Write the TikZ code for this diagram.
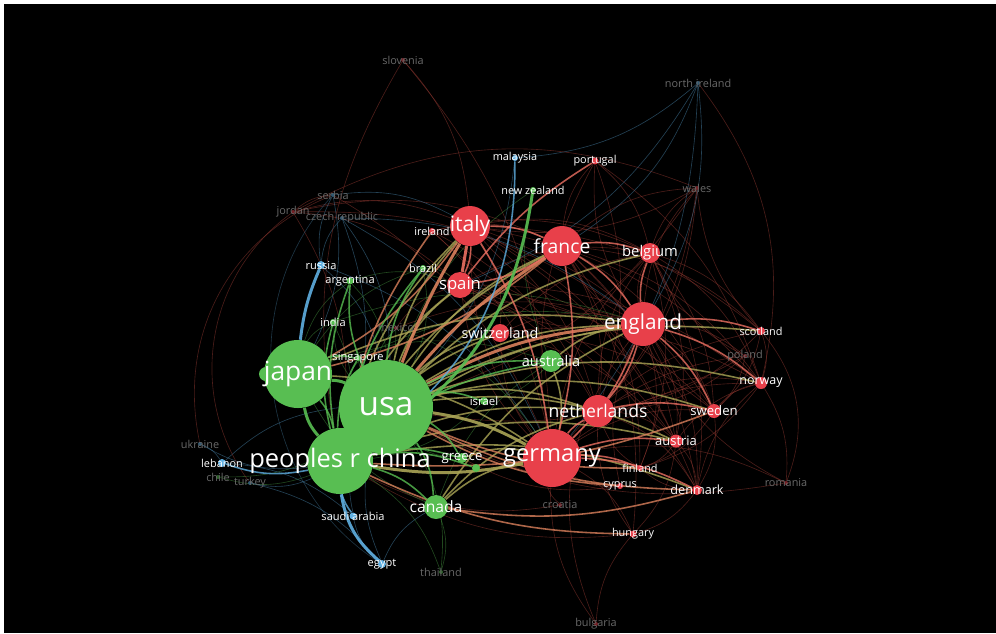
\documentclass[tikz,border=0pt]{standalone}
\usepackage{fontspec}
\setmainfont{Open Sans}
\usepackage{xcolor}
\definecolor{vgreen}{RGB}{88,190,82}
\definecolor{vred}{RGB}{232,64,74}
\definecolor{vblue}{RGB}{96,176,226}
\definecolor{vmix}{RGB}{170,165,86}
\definecolor{vorange}{RGB}{218,128,92}
\definecolor{vsalmon}{RGB}{236,112,98}
\definecolor{vweb}{RGB}{150,58,50}
\definecolor{vdim}{RGB}{105,105,105}
\pgfdeclarelayer{back}
\pgfdeclarelayer{links}
\pgfsetlayers{back,links,main}

\begin{document}
\begin{tikzpicture}[x=0.02cm,y=-0.02cm]
  \tikzset{
    gnode/.style={circle,fill=vgreen,inner sep=0pt,minimum size=#1*0.02cm},
    rnode/.style={circle,fill=vred,inner sep=0pt,minimum size=#1*0.02cm},
    bnode/.style={circle,fill=vblue,inner sep=0pt,minimum size=#1*0.02cm},
    lab/.style={text=white,inner sep=0pt,font=\fontsize{#1}{#1}\selectfont},
    dimlab/.style={text=vdim,inner sep=0pt,font=\fontsize{6.2}{6.2}\selectfont},
    strong/.style={line width=1.7pt,opacity=.9},
    mid/.style={line width=.9pt,opacity=.8},
    faint/.style={line width=.35pt,opacity=.5}
  }
  \useasboundingbox (0,0) rectangle (996,633);
  \begin{pgfonlayer}{back}
    \fill[white] (0,0) rectangle (996,633);
    \fill[black] (4,4) rectangle (996,633);
  \end{pgfonlayer}

  % green cluster
  \node[gnode=94] (usa) at (386,407) {};
  \node[gnode=66] (china) at (340,461) {};
  \node[gnode=14] (jbump) at (266,374) {};
  \node[gnode=68] (japan) at (298,374) {};
  \node[gnode=22] (australia) at (551,361) {};
  \node[gnode=24] (canada) at (436,507) {};
  \node[gnode=8] (israel) at (484,401) {};
  \node[gnode=10] (greece) at (462,458) {};
  \node[gnode=8] (gdot) at (476,468) {};
  \node[gnode=7] (argentina) at (350,281) {};
  \node[gnode=6] (india) at (333,322) {};
  \node[gnode=6] (singapore) at (358,358) {};
  \node[gnode=6] (brazil) at (423,268) {};
  \node[gnode=6] (newzealand) at (533,190) {};
  \node[gnode=4,fill=vgreen!50!black] (thailand) at (441,572) {};
  \node[gnode=4,fill=vgreen!50!black] (chile) at (218,477) {};

  % red cluster
  \node[rnode=58] (germany) at (552,458) {};
  \node[rnode=44] (england) at (643,324) {};
  \node[rnode=40] (italy) at (470,226) {};
  \node[rnode=40] (france) at (562,246) {};
  \node[rnode=26] (spain) at (460,285) {};
  \node[rnode=32] (netherlands) at (598,411) {};
  \node[rnode=20] (belgium) at (650,253) {};
  \node[rnode=18] (switzerland) at (500,333) {};
  \node[rnode=14] (sweden) at (714,411) {};
  \node[rnode=13] (austria) at (676,441) {};
  \node[rnode=12] (norway) at (761,383) {};
  \node[rnode=8] (scotland) at (761,331) {};
  \node[rnode=10] (denmark) at (697,490) {};
  \node[rnode=6] (finland) at (640,468) {};
  \node[rnode=6] (cyprus) at (620,486) {};
  \node[rnode=7] (hungary) at (633,534) {};
  \node[rnode=6] (ireland) at (432,231) {};
  \node[rnode=7] (portugal) at (595,161) {};
  \node[rnode=4,fill=vred!50!black] (mexico) at (396,328) {};
  \node[rnode=4,fill=vred!50!black] (jordan) at (293,212) {};
  \node[rnode=4,fill=vred!50!black] (slovenia) at (403,60) {};
  \node[rnode=4,fill=vred!50!black] (wales) at (697,188) {};
  \node[rnode=4,fill=vred!50!black] (poland) at (745,356) {};
  \node[rnode=4,fill=vred!50!black] (romania) at (786,483) {};
  \node[rnode=4,fill=vred!50!black] (croatia) at (560,505) {};
  \node[rnode=4,fill=vred!50!black] (bulgaria) at (596,624) {};

  % blue cluster
  \node[bnode=7] (saudiarabia) at (353,516) {};
  \node[bnode=8] (egypt) at (382,564) {};
  \node[bnode=8] (lebanon) at (222,463) {};
  \node[bnode=8] (russia) at (321,265) {};
  \node[bnode=6] (malaysia) at (515,158) {};
  \node[bnode=4,fill=vblue!50!black] (czech) at (342,218) {};
  \node[bnode=4,fill=vblue!50!black] (serbia) at (333,195) {};
  \node[bnode=4,fill=vblue!50!black] (northireland) at (698,83) {};
  \node[bnode=4,fill=vblue!50!black] (ukraine) at (200,444) {};
  \node[bnode=4,fill=vblue!50!black] (turkey) at (250,483) {};

  % labels
  \node[lab=19] (usa-l) at (usa) {usa};
  \node[lab=14.5] (china-l) at (china) {peoples r china};
  \node[lab=15] (japan-l) at (japan) {japan};
  \node[lab=13.5] (germany-l) at (germany) {germany};
  \node[lab=11.8] (england-l) at (england) {england};
  \node[lab=12] (italy-l) at (italy) {italy};
  \node[lab=11] (france-l) at (france) {france};
  \node[lab=9.5] (spain-l) at (spain) {spain};
  \node[lab=10] (netherlands-l) at (netherlands) {netherlands};
  \node[lab=8.4] (belgium-l) at (belgium) {belgium};
  \node[lab=8.2] (switzerland-l) at (switzerland) {switzerland};
  \node[lab=8.3] (australia-l) at (australia) {australia};
  \node[lab=8.9] (canada-l) at (canada) {canada};
  \node[lab=7.5] (sweden-l) at (sweden) {sweden};
  \node[lab=7.4] (austria-l) at (austria) {austria};
  \node[lab=7.1] (norway-l) at (norway) {norway};
  \node[lab=7.2] (denmark-l) at (denmark) {denmark};
  \node[lab=7.5] (greece-l) at (greece) {greece};
  \node[lab=6.2] (scotland-l) at (scotland) {scotland};
  \node[lab=6.2] (finland-l) at (finland) {finland};
  \node[lab=6.2] (cyprus-l) at (cyprus) {cyprus};
  \node[lab=6.2] (hungary-l) at (hungary) {hungary};
  \node[lab=6.5] (israel-l) at (israel) {israel};
  \node[lab=6.3] (saudiarabia-l) at (saudiarabia) {saudi arabia};
  \node[lab=6.3] (egypt-l) at (egypt) {egypt};
  \node[lab=6.2] (lebanon-l) at (lebanon) {lebanon};
  \node[lab=6.3] (russia-l) at (russia) {russia};
  \node[lab=6.3] (argentina-l) at (argentina) {argentina};
  \node[lab=6.3] (india-l) at (india) {india};
  \node[lab=6.3] (singapore-l) at (singapore) {singapore};
  \node[lab=6.2] (brazil-l) at (brazil) {brazil};
  \node[lab=6.2] (ireland-l) at (ireland) {ireland};
  \node[lab=6.2] (malaysia-l) at (malaysia) {malaysia};
  \node[lab=6.2] (portugal-l) at (portugal) {portugal};
  \node[lab=6.2] (newzealand-l) at (newzealand) {new zealand};
  \foreach \n/\t in {mexico/mexico, jordan/jordan, slovenia/slovenia, wales/wales,
      poland/poland, romania/romania, croatia/croatia, bulgaria/bulgaria,
      thailand/thailand, chile/chile, czech/czech republic, serbia/serbia,
      northireland/north ireland, ukraine/ukraine, turkey/turkey}
    \node[dimlab] (\n-l) at (\n) {\t};

  \begin{pgfonlayer}{links}
    % faint web
    \foreach \a/\b in {england/belgium, england/france, england/italy, england/spain,
        england/sweden, england/austria, england/denmark, england/finland, england/poland,
        england/wales, england/portugal, england/ireland, germany/belgium, germany/sweden,
        germany/norway, germany/scotland, germany/poland, germany/hungary, germany/romania,
        germany/portugal, germany/switzerland, germany/italy, germany/spain, france/netherlands,
        france/sweden, france/norway, france/austria, france/wales, france/portugal,
        italy/belgium, italy/netherlands, italy/switzerland, italy/ireland, spain/netherlands,
        spain/belgium, netherlands/belgium, netherlands/norway, netherlands/denmark,
        netherlands/austria, belgium/sweden, belgium/norway, belgium/scotland, belgium/wales,
        sweden/norway, sweden/denmark, sweden/finland, austria/denmark, austria/hungary,
        austria/norway, denmark/norway, denmark/hungary, norway/romania, scotland/wales,
        scotland/norway, jordan/serbia, jordan/england, jordan/italy, serbia/germany,
        slovenia/italy, bulgaria/hungary, bulgaria/germany, croatia/germany, croatia/china,
        cyprus/greece, mexico/spain, poland/usa, romania/usa, wales/usa, portugal/belgium,
        italy/sweden, spain/sweden, france/denmark, switzerland/england, switzerland/austria,
        ireland/france, finland/netherlands, cyprus/germany, hungary/china, wales/italy,
        mexico/england, jordan/china, slovenia/germany, scotland/sweden, belgium/austria,
        portugal/norway, portugal/netherlands, wales/germany, wales/netherlands, ireland/belgium,
        ireland/netherlands, ireland/germany, spain/norway, spain/austria, spain/denmark,
        italy/norway, italy/austria, italy/denmark, italy/scotland, france/scotland,
        france/finland, france/hungary, belgium/denmark, belgium/finland, scotland/netherlands,
        norway/finland, poland/belgium, poland/netherlands, poland/sweden, austria/finland,
        switzerland/belgium, switzerland/sweden, switzerland/norway, cyprus/england,
        hungary/netherlands, romania/england, denmark/finland, jordan/france, jordan/spain}
      \draw[faint,vweb] (\a) to[bend left=18] (\b);
    \foreach \a/\b in {usa/india, usa/singapore, usa/mexico, japan/india, japan/argentina,
        china/thailand, china/chile, usa/thailand, canada/thailand, japan/australia,
        usa/newzealand, australia/newzealand, canada/australia, usa/chile, japan/brazil,
        argentina/usa, india/china, singapore/china, brazil/usa, mexico/china, israel/china,
        greece/usa, canada/japan, australia/israel, argentina/spain, brazil/spain,
        india/england, singapore/england, mexico/germany}
      \draw[faint,vgreen!75!black] (\a) to[bend left=18] (\b);
    \foreach \a/\b in {russia/czech, russia/serbia, china/ukraine, china/turkey,
        lebanon/saudiarabia, egypt/saudiarabia, egypt/canada, turkey/egypt, ukraine/lebanon,
        russia/usa, czech/china, malaysia/usa, egypt/usa, czech/usa, serbia/japan,
        northireland/england, northireland/germany, northireland/france, northireland/malaysia,
        northireland/spain, saudiarabia/usa, lebanon/usa, czech/germany, czech/england,
        russia/germany, serbia/italy}
      \draw[faint,vblue!75!black] (\a) to[bend left=18] (\b);
    % outer arcs
    \draw[faint,vweb] (jordan) to[bend right=45] (turkey);
    \draw[faint,vblue!60!black] (serbia) to[bend right=50] (egypt);
    \draw[faint,vweb] (slovenia) to[bend right=20] (china);
    \draw[faint,vweb] (northireland) to[bend left=25] (norway);
    \draw[faint,vweb] (bulgaria) to[bend left=30] (england);
    \draw[faint,vweb] (romania) to[bend right=30] (scotland);
    \draw[faint,vweb] (jordan) to[bend left=25] (wales);
    \draw[faint,vweb] (ukraine) to[bend left=40] (serbia);

    % mixed links between clusters
    \foreach \a/\b in {china/england, china/france, china/italy, china/spain, china/netherlands,
        china/switzerland, usa/england, usa/france, usa/italy, usa/spain, usa/netherlands,
        usa/belgium, usa/sweden, canada/germany, canada/england, japan/germany, china/austria,
        china/denmark, usa/norway, usa/scotland, japan/england, usa/austria, usa/switzerland,
        canada/netherlands, australia/england, australia/germany, greece/germany}
      \draw[mid,vmix] (\a) to[bend left=15] (\b);
    \foreach \a/\b in {china/hungary, canada/denmark, usa/denmark, china/sweden,
        ireland/china, usa/finland, usa/cyprus, japan/france, japan/italy}
      \draw[mid,vorange] (\a) to[bend right=12] (\b);
    \draw[strong,vmix] (china) to[bend right=10] (germany);
    \draw[strong,vmix] (usa) to[bend left=10] (germany);
    \draw[strong,vorange] (usa) to[bend left=12] (england);
    \draw[strong,vorange] (usa) to[bend left=8] (france);
    \draw[strong,vorange] (usa) to[bend left=5] (italy);

    % red links
    \foreach \a/\b in {italy/spain, france/germany, england/germany, england/netherlands,
        germany/netherlands, france/belgium, england/scotland, england/norway, germany/austria,
        netherlands/sweden, france/england, italy/france, germany/denmark, germany/finland,
        england/sweden, england/belgium, france/spain, italy/germany}
      \draw[mid,vsalmon] (\a) to[bend left=12] (\b);
    \draw[strong,vsalmon] (italy) -- (spain);
    \draw[mid,vsalmon] (portugal) to[bend right=10] (spain);

    % green links
    \foreach \a/\b in {japan/china, china/canada, usa/canada, china/australia,
        usa/australia, china/argentina, china/brazil, usa/brazil, china/india,
        usa/israel, china/greece, usa/greece, china/singapore, japan/singapore,
        china/gdot, usa/argentina}
      \draw[mid,vgreen] (\a) to[bend left=14] (\b);
    \draw[strong,vgreen] (japan) to[bend left=10] (usa);
    \draw[strong,vgreen] (china) to[bend right=25] (newzealand);
    \draw[strong,vgreen] (japan) to[bend right=15] (china);

    % blue links
    \draw[strong,vblue] (japan) to[bend left=8] (russia);
    \draw[mid,vblue] (china) to[bend right=28] (malaysia);
    \draw[strong,vblue] (china) to[bend right=20] (egypt);
    \draw[mid,vblue] (china) to[bend right=10] (saudiarabia);
    \draw[mid,vblue] (china) to[bend left=15] (lebanon);
  \end{pgfonlayer}
\end{tikzpicture}
\end{document}
